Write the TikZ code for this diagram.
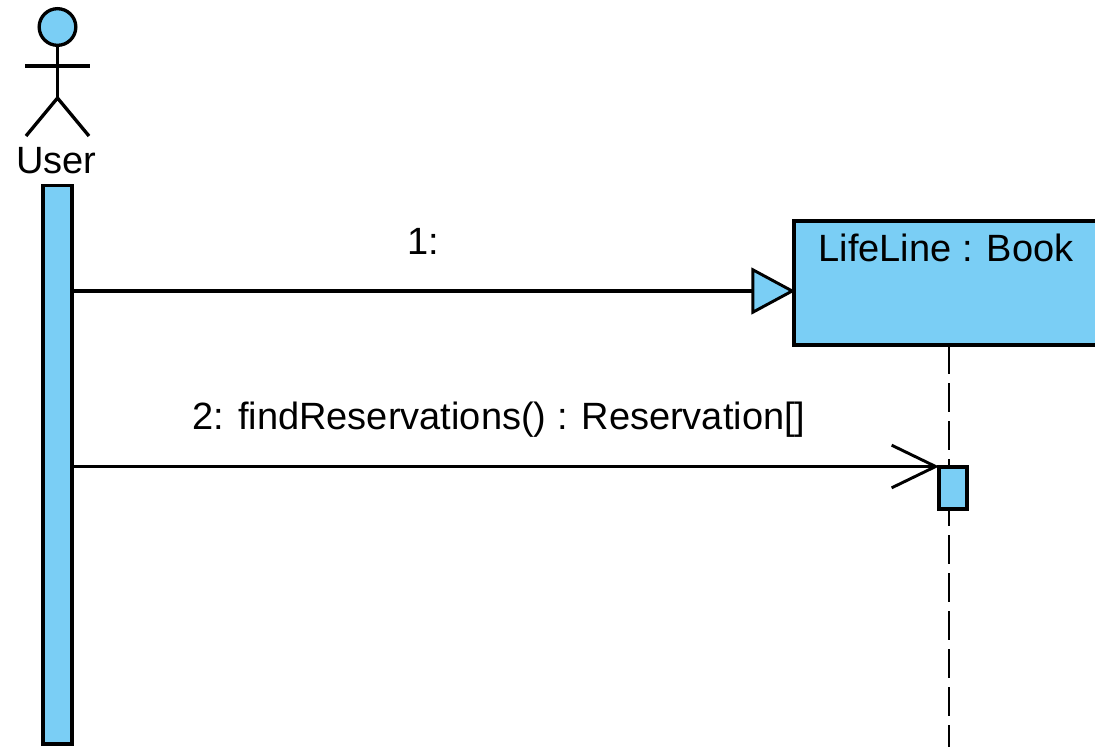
\documentclass[tikz,border=0pt]{standalone}
\usepackage{fontspec}
\setmainfont{Liberation Sans}
\usetikzlibrary{arrows.meta}
\definecolor{umlblue}{HTML}{7ACEF5}
\tikzset{
  px/.style={x=0.75pt,y=-0.75pt},
  umlline/.style={draw=black,line width=2.5pt},
  umlbox/.style={umlline,fill=umlblue,inner sep=0pt,outer sep=0pt,rectangle},
  msg/.style={font=\fontsize{28.5}{31}\selectfont,inner sep=0pt,text=black},
  synctip/.style={-{Triangle[open,length=33pt,width=35pt,fill=umlblue,line width=2.2pt]},shorten >=-1pt},
  opentip/.style={-{Straight Barb[length=33pt,width=32pt,line width=2.2pt]}},
  lifedash/.style={draw=black,line width=2.2pt,dash pattern=on 21.5pt off 7pt},
}
\begin{document}
\begin{tikzpicture}[px]
\useasboundingbox (0,0) rectangle (1095,746);
\clip (0,0) rectangle (1095,746);
% actor
\node[umlbox,circle,minimum size=27.5pt] (head) at (57.5,27) {};
\coordinate (hip) at (57.5,98);
\coordinate (armL) at (25,66);
\coordinate (armR) at (90,66);
\coordinate (legL) at (26,136);
\coordinate (legR) at (89,136);
\draw[umlline] (head.south) -- (hip);
\draw[umlline] (armL) -- (armR);
\draw[umlline] (legL) -- (hip) -- (legR);
\node[msg] (user) at (56.5,161) {User};
% activation bar of the user
\node[umlbox,minimum width=21.8pt,minimum height=419pt] (bar) at (57.5,464.5) {};
% lifeline box
\node[umlbox,minimum width=232.5pt,minimum height=93pt] (book) at (949,283) {};
\node[msg] (booklabel) at (946,248) {LifeLine : Book};
\coordinate (lifeend) at (949,760);
\draw[lifedash] (book.south) -- (lifeend);
\node[umlbox,minimum width=21pt,minimum height=31.5pt] (act) at (953,488) {};
% messages
\coordinate (m1) at (72,291);
\coordinate (m2) at (72,466.5);
\draw[line width=2.5pt,synctip] (m1) -- (m1 -| book.west);
\draw[line width=2.5pt,opentip] (m2) -- (m2 -| act.west);
\node[msg] (l1) at (423,241) {1:};
\node[msg] (l2) at (499,420) {2: findReservations() : Reservation[]};
\end{tikzpicture}
\end{document}
